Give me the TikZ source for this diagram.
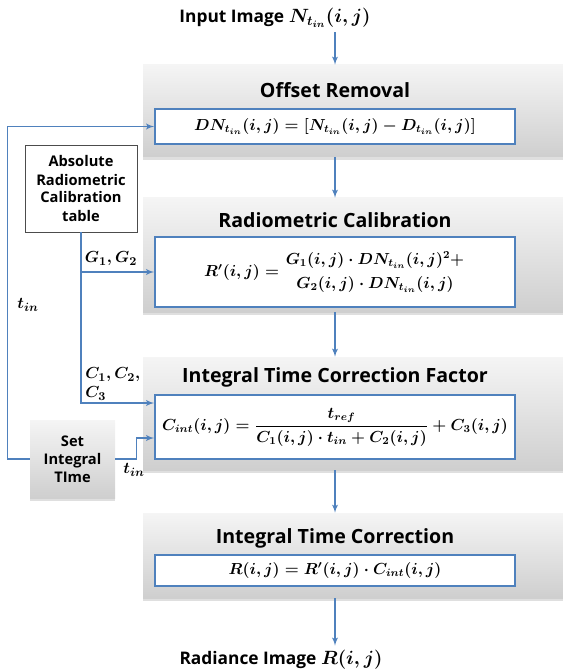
\documentclass[tikz,border=0pt]{standalone}
\usepackage{amsmath}
\usepackage{amssymb}
\usepackage[no-math]{fontspec}
\setmainfont{Open Sans}
\usepackage{tikz}
\usetikzlibrary{arrows,shadows}
\definecolor{lineblue}{RGB}{79,129,189}
\newcommand{\bigmath}[1]{{\fontsize{14.5}{16}\selectfont$#1$}}

\begin{document}
\begin{tikzpicture}
			[x=0.75pt,y=-0.75pt,
			 grayblock/.style={rectangle,inner sep=0pt,top color=gray!8,bottom color=gray!38,
			   drop shadow={opacity=.25,shadow xshift=0pt,shadow yshift=-2pt}},
			 eqbox/.style={rectangle,draw=lineblue,line width=1.2pt,fill=white,inner sep=0pt,
			   minimum width=270pt,font=\fontsize{12}{14}\selectfont\boldmath},
			 head/.style={font=\fontsize{14.7}{16}\selectfont\bfseries},
			 title/.style={font=\fontsize{13}{15}\selectfont\bfseries\boldmath},
			 side/.style={font=\fontsize{11}{13.5}\selectfont\bfseries\boldmath,align=center,inner sep=0pt},
			 sym/.style={font=\fontsize{12.5}{14.5}\selectfont\boldmath,align=left,inner sep=0pt},
			 edge/.style={->,>=latex',draw=lineblue,line width=1.1pt}]
			\useasboundingbox (0,0) rectangle (563,670);

			\node[title] (in) at (275,18) {Input Image \bigmath{N_{t_{in}}(i,j)}};

			\node[grayblock,minimum width=315pt,minimum height=69pt] (b1) at (353,111) {};
			\node[grayblock,minimum width=315pt,minimum height=85.5pt] (b2) at (353,255) {};
			\node[grayblock,minimum width=315pt,minimum height=84.75pt] (b3) at (353,413.5) {};
			\node[grayblock,minimum width=315pt,minimum height=63.75pt] (b4) at (353,555.5) {};

			\node[head] (h1) at (335,90)  {Offset Removal};
			\node[head] (h2) at (335,220) {Radiometric Calibration};
			\node[head] (h3) at (335,377) {Integral Time Correction Factor};
			\node[head] (h4) at (335,538) {Integral Time Correction};

			\node[eqbox,minimum height=26.25pt] (e1) at (335,126.5)
			  {$DN_{t_{in}}(i,j)=\left[N_{t_{in}}(i,j)-D_{t_{in}}(i,j)\right]$};
			\node[eqbox,minimum height=52.5pt] (e2) at (335,272)
			  {$R'(i,j)=\genfrac{}{}{0pt}{0}{G_1(i,j)\cdot DN_{t_{in}}(i,j)^2+}{G_2(i,j)\cdot DN_{t_{in}}(i,j)}$};
			\node[eqbox,minimum height=48pt] (e3) at (335,427)
			  {$C_{int}(i,j)=\dfrac{t_{ref}}{C_1(i,j)\cdot t_{in}+C_2(i,j)}+C_3(i,j)$};
			\node[eqbox,minimum height=23.25pt] (e4) at (335,570.5)
			  {$R(i,j)=R'(i,j)\cdot C_{int}(i,j)$};

			\node[title] (out) at (281,660) {Radiance Image \bigmath{R(i,j)}};

			\node[side,draw=black!70,line width=.6pt,fill=white,minimum width=84pt,minimum height=65.25pt] (tab) at (81,188.5)
			  {Absolute\\Radiometric\\Calibration\\table};
			\node[side,grayblock,minimum width=63.75pt,minimum height=58.5pt] (set) at (72.5,459)
			  {Set\\Integral\\TIme};

			\node[sym] (g12) at (111,259) {$G_1,G_2$};
			\node[sym,anchor=west] (c123) at (85,384) {$C_1,C_2,$\\$C_3$};
			\node[sym] (t1) at (28,305) {$t_{in}$};
			\node[sym] (t2) at (134,470) {$t_{in}$};

			\draw[edge] (in.south -| e1.north) -- (b1.north -| e1.north);
			\foreach \from/\to in {b1/b2,b2/b3,b3/b4}
			\draw[edge] (\from.south -| e1.north) -- (\to.north -| e1.north);
			\draw[edge] (b4.south -| e1.north) -- (out.north -| e1.north);

			\draw[edge] (tab.south) |- ([yshift=18pt]e3.west);
			\draw[edge] (tab.south |- e2.west) -- (e2.west);
			\draw[edge] (set.west) -- ++(-22,0) |- (e1.west);
			\draw[edge] (set.east) -- ++(21,0) |- ([yshift=-8.25pt]e3.west);

			\end{tikzpicture}
\end{document}
